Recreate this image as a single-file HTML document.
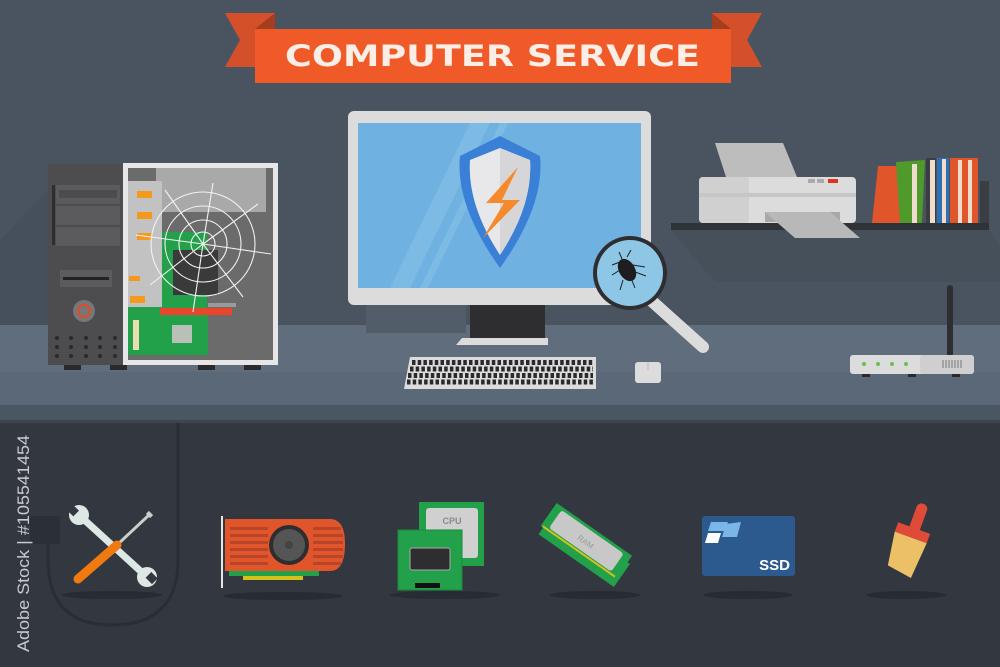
<!DOCTYPE html>
<html><head><meta charset="utf-8"><style>html,body{margin:0;padding:0;background:#323740}svg{display:block}</style></head>
<body>
<svg width="1000" height="667" viewBox="0 0 1000 667" xmlns="http://www.w3.org/2000/svg" font-family="Liberation Sans, sans-serif">
<rect x="0" y="0" width="1000" height="420" fill="#4a5460"/>
<polygon points="48,190 0,240 0,325 48,325" fill="#46505c"/>
<rect x="0" y="325" width="1000" height="47" fill="#5f6d7c"/>
<rect x="0" y="372" width="1000" height="33" fill="#5a6877"/>
<rect x="0" y="405" width="1000" height="15" fill="#4b5663"/>
<rect x="0" y="420" width="1000" height="247" fill="#323740"/>
<rect x="0" y="420" width="1000" height="3" fill="#3d4450"/>

<polygon points="225,13 275,13 275,67 225,67 240,40" fill="#d4502a"/>
<polygon points="762,13 712,13 712,67 762,67 747,40" fill="#d4502a"/>
<polygon points="255,29 275,13 275,29" fill="#a63d1f"/>
<polygon points="731,29 712,13 712,29" fill="#a63d1f"/>
<rect x="255" y="29" width="476" height="54" fill="#f05a28"/>
<text x="285" y="66" font-size="29" font-weight="bold" fill="#fbeee6" textLength="415" lengthAdjust="spacingAndGlyphs" font-family="DejaVu Sans, sans-serif">COMPUTER SERVICE</text>

<rect x="48" y="164" width="77" height="201" fill="#4d4d50"/>
<rect x="52" y="185" width="3" height="60" fill="#2e2e30"/>
<rect x="56" y="185" width="64" height="19" fill="#5b5b5e"/><rect x="59" y="190" width="58" height="8" fill="#4c4c4f"/>
<rect x="56" y="206" width="64" height="19" fill="#5b5b5e"/>
<rect x="56" y="227" width="64" height="19" fill="#5b5b5e"/>
<rect x="60" y="270" width="52" height="17" fill="#5b5b5e"/><rect x="63" y="277" width="46" height="3" fill="#222"/>
<circle cx="84" cy="311" r="11" fill="#777"/><circle cx="84" cy="311" r="6" fill="none" stroke="#e04a2a" stroke-width="2"/>
<g fill="#2a2a2c"><circle cx="57" cy="338" r="2"/><circle cx="71" cy="338" r="2"/><circle cx="86" cy="338" r="2"/><circle cx="100" cy="338" r="2"/><circle cx="115" cy="338" r="2"/><circle cx="57" cy="347" r="2"/><circle cx="71" cy="347" r="2"/><circle cx="86" cy="347" r="2"/><circle cx="100" cy="347" r="2"/><circle cx="115" cy="347" r="2"/><circle cx="57" cy="356" r="2"/><circle cx="71" cy="356" r="2"/><circle cx="86" cy="356" r="2"/><circle cx="100" cy="356" r="2"/><circle cx="115" cy="356" r="2"/></g>
<rect x="64" y="365" width="17" height="5" fill="#2a2a2c"/><rect x="110" y="365" width="17" height="5" fill="#2a2a2c"/><rect x="198" y="365" width="17" height="5" fill="#2a2a2c"/><rect x="244" y="365" width="17" height="5" fill="#2a2a2c"/>
<rect x="123" y="163" width="155" height="202" fill="#e6e6e6"/>
<rect x="128" y="168" width="145" height="192" fill="#6b6b6b"/>
<rect x="156" y="168" width="110" height="44" fill="#a9a9a9"/>
<rect x="128" y="181" width="34" height="140" fill="#c2c2c2"/>
<g fill="#f39a1e"><rect x="137" y="191" width="15" height="7"/><rect x="137" y="212" width="15" height="7"/><rect x="137" y="233" width="15" height="7"/><rect x="129" y="276" width="11" height="5"/><rect x="130" y="296" width="15" height="7"/></g>
<rect x="162" y="232" width="45" height="75" fill="#22a04a"/>
<rect x="128" y="307" width="80" height="48" fill="#22a04a"/>
<rect x="173" y="250" width="45" height="45" fill="#3a3a3a"/>
<rect x="160" y="308" width="72" height="7" fill="#e8452a"/>
<rect x="208" y="303" width="28" height="4" fill="#9a9a9a"/>
<rect x="172" y="325" width="20" height="18" fill="#b8c0b8"/>
<rect x="133" y="320" width="6" height="30" fill="#e8e0b0"/>
<g fill="none" stroke="#f2f2f2" stroke-width="1.1">
<circle cx="203" cy="244" r="12"/><circle cx="203" cy="244" r="24"/><circle cx="203" cy="244" r="38"/><circle cx="203" cy="244" r="52"/>
<line x1="203" y1="244" x2="213" y2="183"/><line x1="203" y1="244" x2="258" y2="204"/><line x1="203" y1="244" x2="271" y2="254"/><line x1="203" y1="244" x2="243" y2="297"/><line x1="203" y1="244" x2="193" y2="312"/><line x1="203" y1="244" x2="150" y2="285"/><line x1="203" y1="244" x2="136" y2="235"/><line x1="203" y1="244" x2="165" y2="190"/>
</g>

<rect x="366" y="305" width="100" height="28" fill="#525d69"/>
<rect x="348" y="111" width="303" height="194" rx="6" fill="#dcdcdc"/>
<rect x="358" y="123" width="283" height="165" fill="#6fb1e0"/>
<polygon points="390,288 470,123 490,123 410,288" fill="#7dbae4"/>
<polygon points="420,288 500,123 508,123 428,288" fill="#7dbae4"/>
<rect x="470" y="305" width="75" height="33" fill="#2e2e30"/>
<polygon points="462,338 548,338 548,345 456,345" fill="#dcdcdc"/>
<path d="M500,136 L540,156 Q545,205 500,268 Q455,205 460,156 Z" fill="#3a80d6"/>
<path d="M500,148 L530,160 Q533,205 500,255 Q467,205 470,160 Z" fill="#e8e8ea"/>
<path d="M500,148 L530,160 Q533,205 500,255 Z" fill="#d6d6d8"/>
<polygon points="518,167 486,203 504,203 483,238 520,200 502,200" fill="#f58a2c"/>
<polygon points="410,357 596,357 596,389 404,389" fill="#dcdcdc"/>
<g stroke="#2a2a2c" stroke-width="5" stroke-dasharray="3.5,2.2">
<line x1="412" y1="362.5" x2="593" y2="362.5"/><line x1="410" y1="369" x2="593" y2="369"/><line x1="408" y1="375.5" x2="593" y2="375.5"/><line x1="407" y1="382" x2="593" y2="382"/></g>
<rect x="635" y="362" width="26" height="21" rx="3" fill="#dcdcdc"/><line x1="648" y1="362" x2="648" y2="370" stroke="#bbb"/>
<line x1="645" y1="295" x2="703" y2="347" stroke="#dcdcdc" stroke-width="12" stroke-linecap="round"/>
<circle cx="630" cy="273" r="37" fill="#2e2e30"/>
<circle cx="630" cy="273" r="33" fill="#8ec7e6"/>
<ellipse cx="627" cy="270" rx="8" ry="12" fill="#1e1e20" transform="rotate(-30 627 270)"/>
<g stroke="#1e1e20" stroke-width="1"><line x1="620" y1="262" x2="612" y2="265"/><line x1="620" y1="270" x2="612" y2="275"/><line x1="633" y1="265" x2="645" y2="267"/><line x1="635" y1="272" x2="646" y2="276"/><line x1="623" y1="280" x2="620" y2="290"/><line x1="631" y1="278" x2="635" y2="288"/><line x1="622" y1="259" x2="619" y2="252"/><line x1="627" y1="257" x2="631" y2="250"/></g>

<polygon points="671,230 989,230 1000,245 1000,282 715,282" fill="#45505b"/>
<polygon points="715,143 783,143 797,177 726,177" fill="#bdbdbd"/>
<rect x="699" y="177" width="157" height="46" rx="4" fill="#dcdcdc"/>
<rect x="699" y="177" width="50" height="46" rx="4" fill="#d0d0d0"/>
<rect x="699" y="193" width="157" height="4" fill="#c6c6c6"/>
<rect x="808" y="179" width="7" height="4" fill="#aaa"/><rect x="817" y="179" width="7" height="4" fill="#aaa"/><rect x="828" y="179" width="10" height="4" fill="#e0321e"/>
<rect x="671" y="223" width="318" height="7" fill="#2f3338"/>
<rect x="765" y="212" width="75" height="10" fill="#a8a8a8"/>
<polygon points="765,212 830,212 860,238 795,238" fill="#b8b8b8"/>
<rect x="980" y="181" width="9" height="42" fill="#3a3d42"/>
<polygon points="878,166 913,166 906,223 872,223" fill="#e0562a"/>
<rect x="903" y="165" width="4" height="58" fill="#f0dccc"/>
<polygon points="896,162 925,160 922,223 900,223" fill="#4f9a2a"/>
<rect x="912" y="164" width="5" height="59" fill="#f0dccc"/>
<rect x="926" y="158" width="10" height="65" fill="#3a3d42"/>
<rect x="930" y="160" width="5" height="63" fill="#f0dccc"/>
<rect x="937" y="158" width="12" height="65" fill="#2f6fb6"/>
<rect x="942" y="159" width="4" height="64" fill="#f0dccc"/>
<rect x="950" y="158" width="28" height="65" fill="#e0562a"/>
<rect x="958" y="160" width="4" height="63" fill="#f0dccc"/><rect x="968" y="160" width="4" height="63" fill="#f0dccc"/>
<rect x="947" y="285" width="6" height="72" rx="3" fill="#2e2e30"/>
<rect x="850" y="355" width="124" height="19" rx="3" fill="#dcdcdc"/>
<rect x="920" y="355" width="54" height="19" rx="3" fill="#cfcfcf"/>
<g fill="#6cbf4a"><circle cx="864" cy="364" r="2"/><circle cx="878" cy="364" r="2"/><circle cx="892" cy="364" r="2"/><circle cx="906" cy="364" r="2"/></g>
<g stroke="#777" stroke-width="1"><line x1="943" y1="360" x2="943" y2="368"/><line x1="946" y1="360" x2="946" y2="368"/><line x1="949" y1="360" x2="949" y2="368"/><line x1="952" y1="360" x2="952" y2="368"/><line x1="955" y1="360" x2="955" y2="368"/><line x1="958" y1="360" x2="958" y2="368"/><line x1="961" y1="360" x2="961" y2="368"/></g>
<rect x="862" y="374" width="8" height="3" fill="#2a2a2c"/><rect x="908" y="374" width="8" height="3" fill="#2a2a2c"/><rect x="952" y="374" width="8" height="3" fill="#2a2a2c"/>

<path d="M178,423 L178,560 Q178,625 112,625 Q48,625 48,560 L48,530" fill="none" stroke="#292d34" stroke-width="3"/>
<rect x="30" y="516" width="30" height="28" rx="3" fill="#2b2f36"/>
<text transform="translate(29,652) rotate(-90)" font-size="17" fill="#c8cbd0" textLength="217" lengthAdjust="spacingAndGlyphs">Adobe Stock | #105541454</text>

<g fill="#272b32"><ellipse cx="112" cy="595" rx="50" ry="4"/><ellipse cx="283" cy="596" rx="60" ry="4"/><ellipse cx="445" cy="595" rx="55" ry="4"/><ellipse cx="595" cy="595" rx="45" ry="4"/><ellipse cx="748" cy="595" rx="45" ry="4"/><ellipse cx="906" cy="595" rx="40" ry="4"/></g>

<g transform="translate(112,550)">
<line x1="-33" y1="-35" x2="35" y2="27" stroke="#dde7e4" stroke-width="7"/>
<circle cx="-33" cy="-35" r="10" fill="#dde7e4"/><circle cx="35" cy="27" r="10" fill="#dde7e4"/>
<rect x="-43" y="-45" width="8" height="9" fill="#323740" transform="rotate(-45 -38 -40)"/>
<rect x="35" y="23" width="8" height="9" fill="#323740" transform="rotate(-45 40 27)"/>
<line x1="37" y1="-35" x2="5" y2="-5" stroke="#c8d0cc" stroke-width="3"/>
<line x1="36" y1="-34" x2="39" y2="-37" stroke="#c8d0cc" stroke-width="6"/>
<line x1="5" y1="-5" x2="-34" y2="29" stroke="#f07a10" stroke-width="9" stroke-linecap="round"/>
</g>
<rect x="221" y="516" width="2" height="72" fill="#e6e6e6"/>
<rect x="229" y="570" width="90" height="6" fill="#22a04a"/>
<rect x="243" y="576" width="60" height="4" fill="#d4c21a"/>
<path d="M225,519 L330,519 Q345,519 345,544 Q345,571 330,571 L225,571 Z" fill="#e0562a"/>
<g fill="#b8442a"><rect x="230" y="527" width="38" height="3"/><rect x="230" y="534" width="38" height="3"/><rect x="230" y="541" width="38" height="3"/><rect x="230" y="548" width="38" height="3"/><rect x="230" y="555" width="38" height="3"/><rect x="230" y="562" width="38" height="3"/><rect x="313" y="527" width="28" height="3"/><rect x="313" y="534" width="30" height="3"/><rect x="313" y="541" width="30" height="3"/><rect x="313" y="548" width="30" height="3"/><rect x="313" y="555" width="30" height="3"/><rect x="313" y="562" width="28" height="3"/></g>
<circle cx="289" cy="545" r="20" fill="#2e2e30"/><circle cx="289" cy="545" r="16" fill="#555"/><circle cx="289" cy="545" r="4" fill="#444"/>
<rect x="419" y="502" width="65" height="64" fill="#22a04a"/>
<rect x="426" y="508" width="52" height="50" rx="3" fill="#d0d0d0"/>
<text x="452" y="524" text-anchor="middle" font-size="9" font-weight="bold" fill="#8a8a8a">CPU</text>
<rect x="398" y="530" width="64" height="60" fill="#22a04a" stroke="#1b8a3c"/>
<rect x="410" y="548" width="40" height="22" rx="2" fill="#2e2e30" stroke="#aaa"/>
<rect x="415" y="583" width="25" height="5" fill="#111"/>
<g transform="translate(588,542) rotate(35)">
<rect x="-45" y="-6" width="92" height="28" fill="#22a04a"/>
<rect x="-48" y="-14" width="92" height="28" fill="#22a04a"/>
<rect x="-40" y="-11" width="76" height="22" rx="3" fill="#c8c8c8"/>
<text x="-2" y="4" text-anchor="middle" font-size="8" fill="#999">RAM</text>
<rect x="-46" y="12" width="88" height="2" fill="#d4c21a"/>
</g>
<rect x="702" y="516" width="93" height="60" rx="3" fill="#2d5a8e"/>
<polygon points="711,522 728,522 725,531 708,531" fill="#7ab6e8"/>
<polygon points="708,533 721,533 718,543 705,543" fill="#fff"/>
<polygon points="726,524 741,522 737,537 722,537" fill="#7ab6e8"/>
<text x="790" y="570" text-anchor="end" font-size="15" font-weight="bold" fill="#fff">SSD</text>
<g transform="translate(908,545) rotate(20)">
<rect x="-5" y="-44" width="11" height="30" rx="5" fill="#e04a38"/>
<rect x="-17" y="-18" width="34" height="10" fill="#e04a38"/>
<polygon points="-17,-8 17,-8 14,30 -12,26" fill="#ecc067"/>
</g>
</svg>
</body></html>
